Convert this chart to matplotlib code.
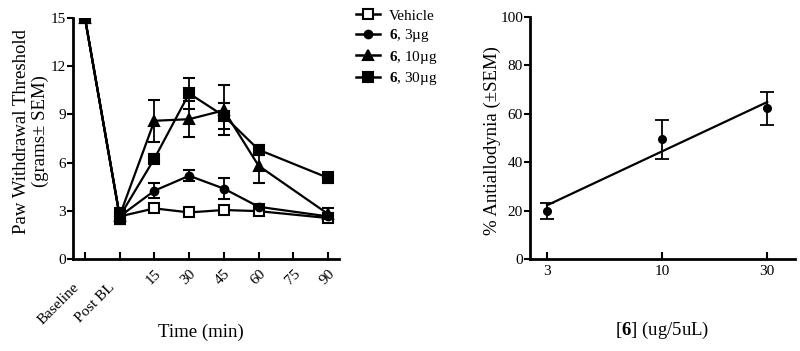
import numpy as np
import matplotlib
matplotlib.use("Agg")
import matplotlib.pyplot as plt
from matplotlib.lines import Line2D
from matplotlib.transforms import ScaledTranslation

plt.rcParams['font.family'] = ['Liberation Serif', 'DejaVu Serif']
plt.rcParams['mathtext.fontset'] = 'custom'
plt.rcParams['mathtext.rm'] = 'Liberation Serif'
plt.rcParams['mathtext.bf'] = 'Liberation Serif:bold'

# time course data (left panel)
tick_labels = ['Baseline', 'Post BL', '15', '30', '45', '60', '75', '90']
time_pos = [0, 1, 2, 3, 4, 5, 7]   # 75 min has no measurement

vehicle = [15, 2.65, 3.15, 2.9, 3.05, 2.98, 2.55]
vehicle_err = [0, 0.45, 0.15, 0.1, 0.1, 0.1, 0.1]
dose3 = [15, 2.65, 4.25, 5.18, 4.38, 3.25, 2.65]
dose3_err = [0, 0.45, 0.45, 0.35, 0.65, 0.15, 0.2]
dose10 = [15, 2.7, 8.6, 8.7, 9.25, 5.8, 2.8]
dose10_err = [0, 0.45, 1.3, 1.1, 1.55, 1.05, 0.35]
dose30 = [15, 2.65, 6.25, 10.3, 8.9, 6.8, 5.05]
dose30_err = [0, 0.45, 0.3, 0.95, 0.8, 0.3, 0.35]

# dose response (right panel)
doses = [3, 10, 30]
antiallodynia = [19.8, 49.5, 62.2]
antiallodynia_err = [3.4, 8.0, 6.8]

fig = plt.figure(figsize=(8, 3.51), dpi=100)
ax1 = fig.add_axes([0.091, 0.262, 0.333, 0.687])
ax2 = fig.add_axes([0.6625, 0.262, 0.3315, 0.690])

series = [
    (vehicle, vehicle_err, dict(marker='s', mfc='white', ms=7), 'Vehicle'),
    (dose3, dose3_err, dict(marker='o', mfc='black', ms=5.5), r'$\mathbf{6}$, 3µg'),
    (dose10, dose10_err, dict(marker='^', mfc='black', ms=7), r'$\mathbf{6}$, 10µg'),
    (dose30, dose30_err, dict(marker='s', mfc='black', ms=7.5), r'$\mathbf{6}$, 30µg'),
]
handles = []
for vals, err, style, lab in series:
    ax1.errorbar(time_pos, vals, yerr=err, color='black', lw=1.6,
                 mec='black', mew=1.5, capsize=4.5, elinewidth=1.3,
                 capthick=1.3, **style)
    handles.append(Line2D([], [], color='black', lw=1.8, mec='black',
                          mew=1.5, label=lab, **style))

ax1.set_xlim(-0.35, 7.32)
ax1.set_ylim(0, 15)
ax1.set_yticks([0, 3, 6, 9, 12, 15])
ax1.set_xticks(range(len(tick_labels)))
ax1.set_xticklabels(tick_labels, rotation=45, ha='right', va='top',
                    rotation_mode='anchor')
ax1.tick_params(axis='x', direction='in', length=5, width=1.5, labelsize=11, pad=6)
ax1.tick_params(axis='y', direction='out', length=4, width=1.5, labelsize=11, pad=1)
# the two word labels sit lower and further left than the numbers
shift = ScaledTranslation(-0.12, -0.13, fig.dpi_scale_trans)
for lbl in ax1.get_xticklabels()[:2]:
    lbl.set_transform(lbl.get_transform() + shift)
for s in ['top', 'right']:
    ax1.spines[s].set_visible(False)
for s in ['left', 'bottom']:
    ax1.spines[s].set_linewidth(2)
ax1.set_xlabel('Time (min)', fontsize=13.5)
ax1.xaxis.set_label_coords(0.48, -0.27)
ax1.set_ylabel('Paw Withdrawal Threshold\n(grams± SEM)', fontsize=13.5,
               linespacing=1.1)
ax1.yaxis.set_label_coords(-0.09, 0.53)

fig.legend(handles=handles, loc='upper left', bbox_to_anchor=(0.437, 0.992),
           frameon=False, fontsize=11, handlelength=1.6, handletextpad=0.6,
           labelspacing=0.3, borderaxespad=0)

# right panel
logd = np.log10(doses)
slope, icpt = np.polyfit(logd, antiallodynia, 1)
ax2.plot(doses, slope * logd + icpt, color='black', lw=1.6)
ax2.errorbar(doses, antiallodynia, yerr=antiallodynia_err, fmt='o', color='black',
             ms=5.5, capsize=5, elinewidth=1.3, capthick=1.3)
ax2.set_xscale('log')
ax2.set_xlim(2.51, 40.2)
ax2.set_ylim(0, 100)
ax2.set_xticks(doses)
ax2.set_xticklabels([str(d) for d in doses])
ax2.xaxis.set_minor_locator(matplotlib.ticker.NullLocator())
ax2.set_yticks([0, 20, 40, 60, 80, 100])
ax2.tick_params(axis='x', direction='in', length=5, width=1.5, labelsize=11, pad=4)
ax2.tick_params(axis='y', direction='out', length=4, width=1.5, labelsize=11, pad=1)
for s in ['top', 'right']:
    ax2.spines[s].set_visible(False)
for s in ['left', 'bottom']:
    ax2.spines[s].set_linewidth(2)
ax2.set_xlabel(r'[$\mathbf{6}$] (ug/5uL)', fontsize=13.5)
ax2.xaxis.set_label_coords(0.5, -0.25)
ax2.set_ylabel('% Antiallodynia (±SEM)', fontsize=13.5)
ax2.yaxis.set_label_coords(-0.11, 0.49)

fig.savefig('out.png', dpi=100)
